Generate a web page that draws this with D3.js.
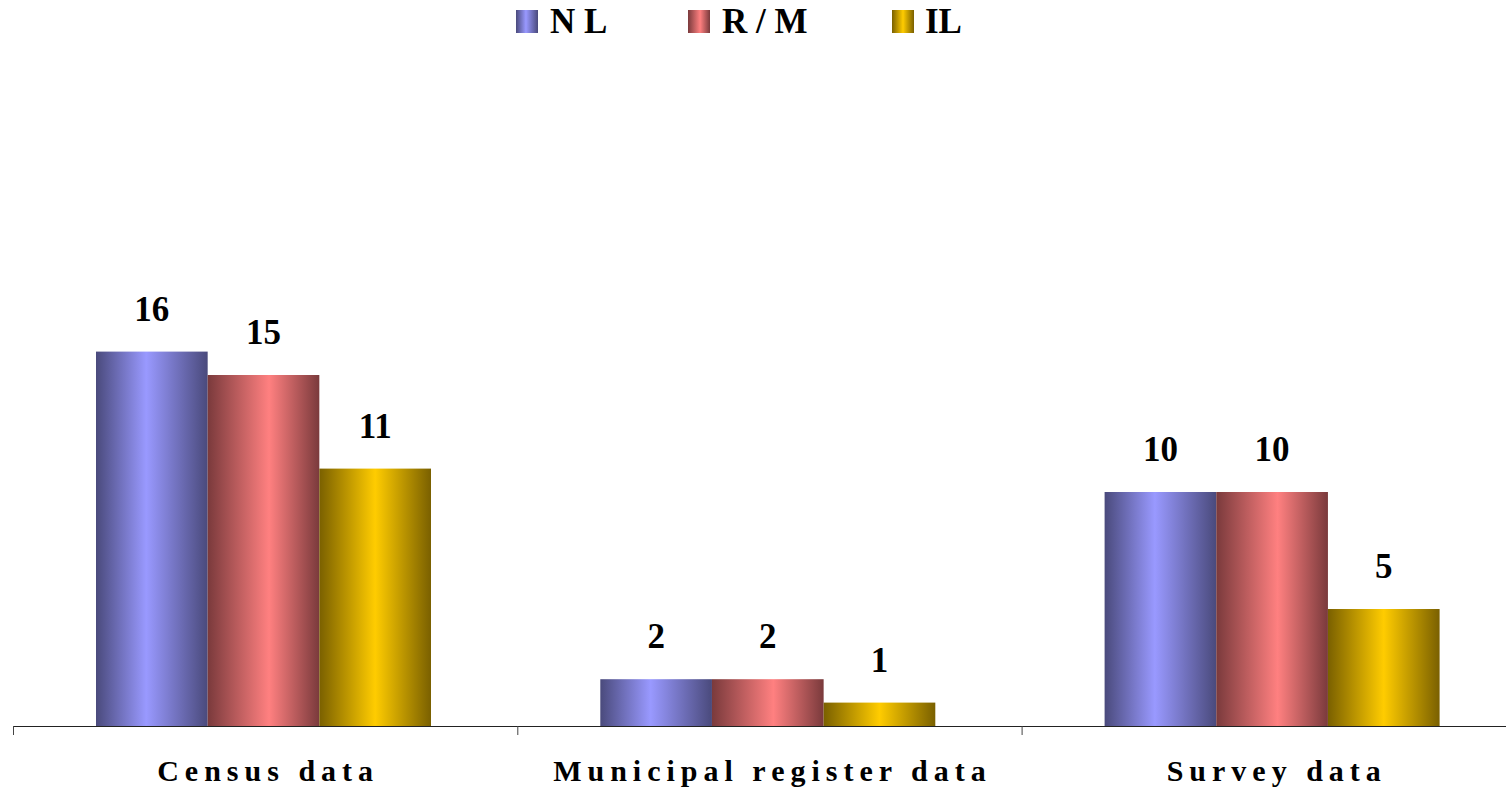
<!DOCTYPE html>
<html><head><meta charset="utf-8">
<script src="https://cdn.jsdelivr.net/npm/d3@7"></script>
<style>body{margin:0;background:#fff}svg{display:block}</style>
</head><body>
<script>
const categories = ["Census data", "Municipal register data", "Survey data"];
const seriesNames = ["NL", "R/M", "IL"];
const legendLabels = ["N L", "R / M", "IL"];
const valuesNL = [16, 2, 10];
const valuesRM = [15, 2, 10];
const valuesIL = [11, 1, 5];
const seriesValues = [valuesNL, valuesRM, valuesIL];

const W = 1506, H = 790;
const lightCols = ["#9999ff", "#ff8080", "#ffcc00"];
const darkCols = ["#4a4a7c", "#7a3a3c", "#7a6000"];

const svg = d3.select("body").append("svg").attr("width", W).attr("height", H);
const defs = svg.append("defs");
seriesNames.forEach((s, i) => {
  const g = defs.append("linearGradient").attr("id", "g" + i)
    .attr("x1", "0%").attr("x2", "100%").attr("y1", "0%").attr("y2", "0%");
  const peak = [0.45, 0.55, 0.5][i];
  g.append("stop").attr("offset", "0%").attr("stop-color", darkCols[i]);
  g.append("stop").attr("offset", (peak * 100) + "%").attr("stop-color", lightCols[i]);
  g.append("stop").attr("offset", "100%").attr("stop-color", darkCols[i]);
});

const x0 = d3.scaleBand().domain(categories).range([13, 13 + 3 * 504.3]).paddingInner(0).paddingOuter(0);
const x1 = d3.scaleBand().domain(seriesNames).range([83, 418]).padding(0);
const y = d3.scaleLinear().domain([0, 20]).range([726, 258]);

const data = [];
categories.forEach((c, ci) => seriesNames.forEach((s, si) => data.push({c, s, si, v: seriesValues[si][ci]})));

svg.selectAll("rect.bar").data(data).join("rect").attr("class", "bar")
  .attr("x", d => x0(d.c) + x1(d.s))
  .attr("width", x1.bandwidth())
  .attr("y", d => y(d.v))
  .attr("height", d => y(0) - y(d.v))
  .attr("fill", d => "url(#g" + d.si + ")");

svg.selectAll("text.val").data(data).join("text").attr("class", "val")
  .attr("x", d => x0(d.c) + x1(d.s) + x1.bandwidth() / 2)
  .attr("y", d => y(d.v) - 31)
  .attr("text-anchor", "middle")
  .style("font-family", "'Liberation Serif', 'Times New Roman', serif")
  .style("font-weight", "bold").style("font-size", "35px")
  .text(d => d.v);

// axis
svg.append("line").attr("x1", 13).attr("x2", W).attr("y1", y(0) + 0.5).attr("y2", y(0) + 0.5)
  .attr("stroke", "#222").attr("stroke-width", 1.2);
svg.selectAll("line.tick").data(categories).join("line").attr("class", "tick")
  .attr("x1", d => x0(d) + 0.5).attr("x2", d => x0(d) + 0.5)
  .attr("y1", y(0)).attr("y2", y(0) + 9)
  .attr("stroke", "#444").attr("stroke-width", 1);

svg.selectAll("text.cat").data(categories).join("text").attr("class", "cat")
  .attr("x", d => x0(d) + x0.bandwidth() / 2 + 3)
  .attr("y", 781)
  .attr("text-anchor", "middle")
  .style("font-family", "'Liberation Serif', 'Times New Roman', serif")
  .style("font-weight", "bold").style("font-size", "30px")
  .style("letter-spacing", "6px")
  .text(d => d);

// legend
const legX = [516, 688, 892];
const leg = svg.selectAll("g.leg").data(seriesNames).join("g").attr("class", "leg")
  .attr("transform", (d, i) => `translate(${legX[i]},10)`);
leg.append("rect").attr("width", 22).attr("height", 23).attr("fill", (d, i) => "url(#g" + i + ")");
leg.append("text").attr("x", (d, i) => [34, 34, 33][i]).attr("y", 23)
  .style("font-family", "'Liberation Serif', 'Times New Roman', serif")
  .style("font-weight", "bold").style("font-size", "35px")
  .text((d, i) => legendLabels[i]);
</script>
</body></html>
